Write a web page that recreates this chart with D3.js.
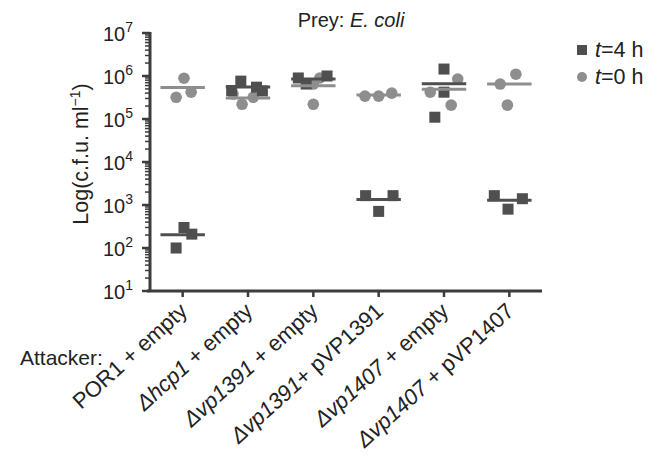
<!DOCTYPE html>
<html>
<head>
<meta charset="utf-8">
<script src="https://cdn.jsdelivr.net/npm/d3@7"></script>
<style>
  body { margin: 0; background: #fff; }
  text { font-family: "Liberation Sans", Arial, sans-serif; fill: #222; }
</style>
</head>
<body>
<svg id="chart" width="662" height="456"></svg>
<script>
// attacker strains (x axis)
const categories = ["POR1", "hcp1", "vp1391", "vp1391c", "vp1407", "vp1407c"]
// label pieces: [plain prefix, italic part, plain rest]
const catLabels = [
  ["POR1 + empty", "", ""],
  ["\u0394", "hcp1", " + empty"],
  ["\u0394", "vp1391", " + empty"],
  ["\u0394", "vp1391", "+ pVP1391"],
  ["\u0394", "vp1407", " + empty"],
  ["\u0394", "vp1407", " + pVP1407"]
]

// t=4 h (squares), c.f.u./ml per replicate
const t4Values = [
  [3.0e2, 2.1e2, 1.0e2],
  [4.6e5, 7.6e5, 5.5e5, 4.5e5],
  [9.0e5, 6.5e5, 1.0e6],
  [1.65e3, 1.65e3, 7.1e2],
  [1.45e6, 4.2e5, 1.1e5],
  [1.65e3, 1.4e3, 8.0e2]
]
// horizontal scatter of each replicate, fraction of a category step
const t4Jitter = [
  [0.02, 0.14, -0.1],
  [-0.25, -0.11, 0.13, 0.22],
  [-0.23, -0.11, 0.21],
  [-0.2, 0.22, 0],
  [0, 0, -0.14],
  [-0.23, 0.2, -0.02]
]

// t=0 h (circles)
const t0Values = [
  [8.9e5, 3.2e5, 4.2e5],
  [2.2e5, 3.2e5, 3.8e5],
  [9.0e5, 6.5e5, 2.2e5],
  [3.4e5, 3.4e5, 4.0e5],
  [8.5e5, 4.2e5, 2.1e5],
  [6.5e5, 1.1e6, 2.1e5]
]
const t0Jitter = [
  [0.02, -0.1, 0.13],
  [-0.09, 0.08, -0.23],
  [0.1, 0, 0],
  [-0.21, 0, 0.2],
  [0.21, -0.21, 0.11],
  [-0.14, 0.1, -0.03]
]

const yExponents = [1, 2, 3, 4, 5, 6, 7]

const axisColor = "#3c3c3c"
const sqColor = "#4f4f4f"
const ciColor = "#8e8e8e"

const svg = d3.select("#chart")
const mLeft = 150, mRight = 542, mTop = 33, mBottom = 291

const x = d3.scaleBand().domain(categories).range([mLeft, mRight]).padding(0)
const y = d3.scaleLog().domain([10, 1e7]).range([mBottom, mTop])
const jit = d3.scaleLinear().domain([-1, 1]).range([-x.step(), x.step()])

// y axis: minor ticks
const minor = []
yExponents.slice(0, -1).forEach(e => {
  for (let k = 2; k <= 9; k++) minor.push(k * Math.pow(10, e))
})
svg.append("g").selectAll("line").data(minor).join("line")
  .attr("x1", mLeft - 5).attr("x2", mLeft)
  .attr("y1", d => y(d)).attr("y2", d => y(d))
  .attr("stroke", axisColor).attr("stroke-width", 1.5)

svg.append("g").selectAll("line").data(yExponents).join("line")
  .attr("x1", mLeft - 8).attr("x2", mLeft)
  .attr("y1", d => y(Math.pow(10, d))).attr("y2", d => y(Math.pow(10, d)))
  .attr("stroke", axisColor).attr("stroke-width", 2.5)

const yl = svg.append("g").selectAll("text").data(yExponents).join("text")
  .attr("x", mLeft - 17)
  .attr("y", d => y(Math.pow(10, d)) + 8)
  .attr("text-anchor", "end")
  .style("font-size", "20px")
yl.append("tspan").text("10")
yl.append("tspan").attr("dy", -9).style("font-size", "14px").text(d => d)

svg.append("line")
  .attr("x1", mLeft).attr("x2", mLeft).attr("y1", mTop - 1).attr("y2", mBottom)
  .attr("stroke", axisColor).attr("stroke-width", 3)

// x axis
svg.append("line")
  .attr("x1", mLeft - 3).attr("x2", mRight).attr("y1", mBottom).attr("y2", mBottom)
  .attr("stroke", axisColor).attr("stroke-width", 3)
svg.append("g").selectAll("line").data(categories).join("line")
  .attr("x1", d => x(d) + x.bandwidth() / 2).attr("x2", d => x(d) + x.bandwidth() / 2)
  .attr("y1", mBottom).attr("y2", mBottom + 6)
  .attr("stroke", axisColor).attr("stroke-width", 2.5)

const xl = svg.append("g").selectAll("text").data(categories).join("text")
  .attr("transform", d => `translate(${x(d) + x.bandwidth() / 2 + 6},${mBottom + 22}) rotate(-42)`)
  .attr("text-anchor", "end")
  .style("font-size", "22px")
xl.append("tspan").text((d, i) => catLabels[i][0]).style("font-style", (d, i) => i > 0 ? "italic" : null)
xl.append("tspan").style("font-style", "italic").text((d, i) => catLabels[i][1])
xl.append("tspan").text((d, i) => catLabels[i][2])

svg.append("text").attr("x", 20).attr("y", 365).style("font-size", "21px").text("Attacker:")

// titles
const tt = svg.append("text").attr("x", 351).attr("y", 27).attr("text-anchor", "middle")
  .style("font-size", "20px")
tt.append("tspan").text("Prey: ")
tt.append("tspan").style("font-style", "italic").text("E. coli")

const yt = svg.append("text")
  .attr("transform", `translate(88,154) rotate(-90)`)
  .attr("text-anchor", "middle").style("font-size", "21.5px")
yt.append("tspan").text("Log(c.f.u. ml")
yt.append("tspan").attr("dy", -8).style("font-size", "14px").text("\u22121")
yt.append("tspan").attr("dy", 8).text(")")

// points
function pts(values, jitter) {
  const out = []
  values.forEach((arr, gi) => arr.forEach((v, k) => out.push({ c: categories[gi], v, j: jitter[gi][k] })))
  return out
}
const cx = d => x(d.c) + x.bandwidth() / 2 + jit(d.j)

svg.append("g").selectAll("circle").data(pts(t0Values, t0Jitter)).join("circle")
  .attr("cx", cx).attr("cy", d => y(d.v)).attr("r", 5.8).attr("fill", ciColor)

const sq = 11
svg.append("g").selectAll("rect").data(pts(t4Values, t4Jitter)).join("rect")
  .attr("x", d => cx(d) - sq / 2).attr("y", d => y(d.v) - sq / 2)
  .attr("width", sq).attr("height", sq).attr("fill", sqColor)

// mean lines
function means(values) {
  return values.map((arr, gi) => ({ c: categories[gi], m: d3.mean(arr) }))
}
const half = 0.34
function meanLines(values, color) {
  svg.append("g").selectAll("line").data(means(values)).join("line")
    .attr("x1", d => x(d.c) + x.bandwidth() / 2 - jit(half))
    .attr("x2", d => x(d.c) + x.bandwidth() / 2 + jit(half))
    .attr("y1", d => y(d.m)).attr("y2", d => y(d.m))
    .attr("stroke", color).attr("stroke-width", 3)
}
meanLines(t0Values, ciColor)
meanLines(t4Values, sqColor)

// legend
const legend = svg.append("g")
legend.append("rect").attr("x", 577).attr("y", 45).attr("width", 10).attr("height", 10).attr("fill", sqColor)
legend.append("circle").attr("cx", 582).attr("cy", 77).attr("r", 5).attr("fill", ciColor)
const l1 = legend.append("text").attr("x", 595).attr("y", 57).style("font-size", "21.5px")
l1.append("tspan").style("font-style", "italic").text("t")
l1.append("tspan").text("=4 h")
const l2 = legend.append("text").attr("x", 595).attr("y", 84).style("font-size", "21.5px")
l2.append("tspan").style("font-style", "italic").text("t")
l2.append("tspan").text("=0 h")
</script>
</body>
</html>
